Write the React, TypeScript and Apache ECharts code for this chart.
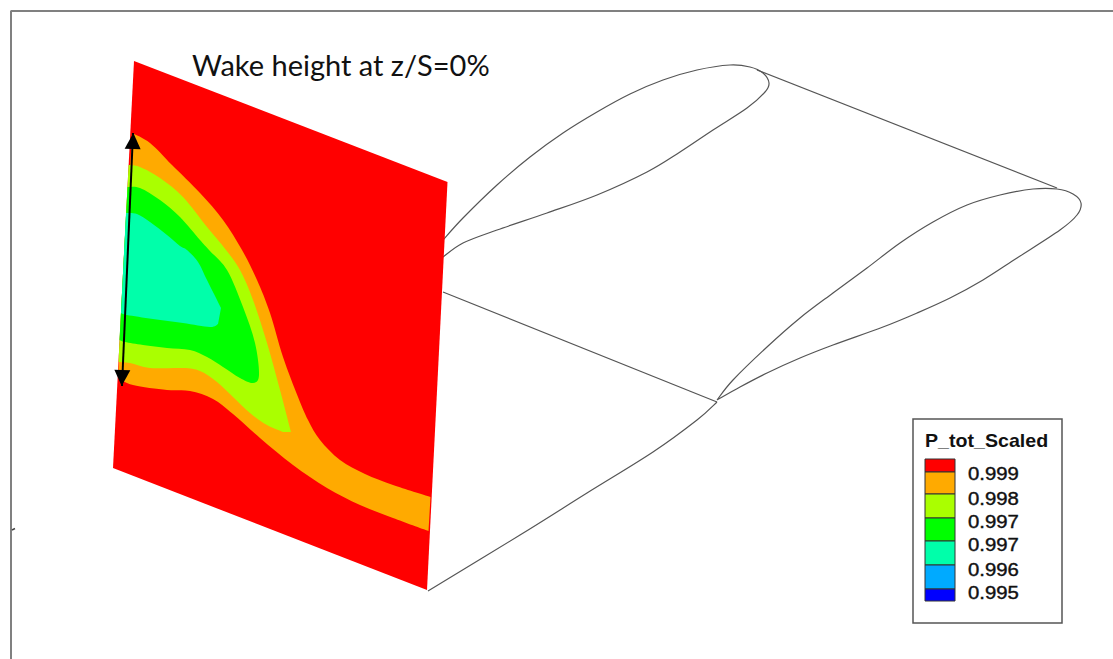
import React, { useEffect, useRef } from "react";
import * as echarts from "echarts";

type P = [number, number];

const titleText = "Wake height at z/S=0%";
const legendTitle = "P_tot_Scaled";
const legendLabels = ["0.999", "0.998", "0.997", "0.997", "0.996", "0.995"];
const legendColors = ["#ff0000", "#ffaa00", "#aaff00", "#00ff00", "#00ffaa", "#00aaff", "#0000ff"];

const planeCorners: P[][] = [[[134, 61]], [[447.5, 182]], [[427, 590]], [[113, 468]]];

const orangeBand: P[][] = [
  [[132, 133], [150, 143], [172, 165], [200, 193], [223, 220], [242, 250], [257, 280], [270, 313], [283, 357], [298, 397], [308, 420], [320, 440], [340, 460], [365, 474], [393, 485], [430.5, 497]],
  [[428.5, 531], [393, 518], [360, 505], [327, 488], [293, 465], [260, 438], [233, 414], [213, 399], [190, 391], [167, 390], [133, 385], [118, 378]],
];
const yellowBand: P[][] = [
  [[128.6, 165], [140, 167], [160, 178], [183, 197], [207, 227], [226, 250], [240, 270], [253, 300], [267, 343], [280, 390], [291, 432]],
  [[283, 432], [267, 425], [250, 413], [233, 397], [217, 382], [200, 371], [183, 368], [150, 368], [130, 363], [118.5, 362]],
];
const greenBand: P[][] = [
  [[127.5, 187], [140, 188], [160, 200], [180, 217], [200, 240], [209, 250], [227, 270], [243, 307], [255, 343], [259, 375], [253, 383], [240, 378], [223, 367], [207, 357], [190, 350], [167, 348], [143, 345], [125, 342], [119.5, 340]],
];
const cyanBand: P[][] = [
  [[126, 213], [137, 214], [150, 222], [167, 235], [180, 246], [187, 250], [198, 262], [207, 280], [221, 308]],
  [[218, 324], [210, 327], [183, 323], [153, 319], [127, 315], [121, 313]],
];

const nearFoil: P[] = [[443, 240], [463, 218], [497, 185], [530, 157], [563, 133], [597, 112], [630, 94], [663, 80], [697, 70], [730, 65], [750, 67], [763, 73], [769, 83], [765, 92], [747, 108], [713, 130], [680, 152], [647, 172], [597, 195], [547, 213], [497, 230], [463, 243], [443, 257]];
const farFoil: P[] = [[717, 400], [733, 380], [767, 347], [800, 318], [833, 293], [867, 268], [900, 243], [933, 222], [967, 205], [1000, 195], [1033, 189], [1057, 189], [1073, 194], [1081, 203], [1077, 215], [1060, 230], [1017, 258], [983, 280], [950, 298], [917, 313], [883, 327], [833, 345], [800, 358], [767, 373], [740, 387], [717, 400]];
const topEdge: P[] = [[757, 70], [1057, 188]];
const midEdge: P[] = [[443, 292], [717, 402]];
const lowEdge: P[] = [[717, 402], [697, 420], [653, 452], [587, 493], [520, 535], [428, 591]];
const frameLine: P[] = [[11, 659], [11, 11], [1113, 11]];
const frameTick: P[] = [[12, 530], [15, 528.5]];
const wakeArrow: P[] = [[133, 133], [122, 386]];

const LINE = "#555555";

function toPath(curves: P[][], api: any, closed: boolean): string {
  let d = "";
  curves.forEach((pts, ci) => {
    const c = pts.map((p) => api.coord(p) as P);
    d += (ci === 0 ? "M" : "L") + c[0][0] + " " + c[0][1];
    for (let i = 0; i < c.length - 1; i++) {
      const a = c[Math.max(0, i - 1)], b = c[i], e = c[i + 1], f = c[Math.min(c.length - 1, i + 2)];
      const c1 = [b[0] + (e[0] - a[0]) / 6, b[1] + (e[1] - a[1]) / 6];
      const c2 = [e[0] - (f[0] - b[0]) / 6, e[1] - (f[1] - b[1]) / 6];
      d += `C${c1[0]} ${c1[1]} ${c2[0]} ${c2[1]} ${e[0]} ${e[1]}`;
    }
  });
  return closed ? d + "Z" : d;
}

function region(name: string, curves: P[][], color: string) {
  return {
    type: "custom",
    name,
    silent: true,
    clip: false,
    coordinateSystem: "cartesian2d",
    encode: { x: 0, y: 1 },
    data: [curves[0][0]],
    renderItem: (_p: any, api: any) => ({
      type: "path",
      shape: { pathData: toPath(curves, api, true), layout: "cover" },
      style: { fill: color, stroke: null },
    }),
  };
}

function curve(name: string, pts: P[]) {
  return {
    type: "custom",
    name,
    silent: true,
    clip: false,
    coordinateSystem: "cartesian2d",
    encode: { x: 0, y: 1 },
    data: [pts[0]],
    renderItem: (_p: any, api: any) => ({
      type: "path",
      shape: { pathData: toPath([pts], api, false), layout: "cover" },
      style: { fill: "none", stroke: LINE, lineWidth: 1.2 },
    }),
  };
}

function polyline(name: string, data: P[], color = LINE, width = 1.2) {
  return {
    type: "line",
    name,
    data,
    silent: true,
    symbol: "none",
    clip: false,
    lineStyle: { color, width },
  };
}

export default function App() {
  const ref = useRef<HTMLDivElement>(null);
  useEffect(() => {
    const chart = echarts.init(ref.current!, null, { renderer: "svg" });
    const legendLeft = 925;
    const swatchEdges = [459, 472, 494, 518, 541, 565, 589, 601];
    const labelY = [474, 499, 522, 545, 570, 593];
    const graphic: any[] = [
      { type: "rect", shape: { x: 913, y: 419, width: 149, height: 204 }, style: { fill: "#fff", stroke: "#555", lineWidth: 1.5 } },
      ...legendColors.map((c, i) => ({
        type: "rect",
        shape: { x: legendLeft, y: swatchEdges[i], width: 30, height: swatchEdges[i + 1] - swatchEdges[i] },
        style: { fill: c, stroke: "#333", lineWidth: 1 },
      })),
      {
        type: "text", x: 925, y: 441, scaleX: 1.09,
        style: { text: legendTitle, fontFamily: "Liberation Sans", fontSize: 18, fontWeight: "bold", fill: "#111", verticalAlign: "middle" },
      },
      ...legendLabels.map((t, i) => ({
        type: "text", x: 968, y: labelY[i], scaleX: 1.13,
        style: { text: t, fontFamily: "Liberation Sans", fontSize: 18, fill: "#111", stroke: "#111", lineWidth: 0.4, verticalAlign: "middle" },
      })),
      {
        type: "text", x: 192, y: 64,
        style: { text: titleText, fontFamily: "Lato", fontSize: 29, fill: "#111", verticalAlign: "middle" },
      },
    ];
    chart.setOption({
      animation: false,
      backgroundColor: "#ffffff",
      grid: { left: 0, right: 0, top: 0, bottom: 0 },
      xAxis: { type: "value", min: 0, max: 1113, show: false },
      yAxis: { type: "value", min: 0, max: 659, inverse: true, show: false },
      graphic,
      series: [
        polyline("frame", frameLine, "#808080", 2),
        polyline("frame tick", frameTick, "#444444", 1.5),
        curve("near foil", nearFoil),
        curve("far foil", farFoil),
        polyline("top edge", topEdge),
        polyline("mid edge", midEdge),
        curve("low edge", lowEdge),
        region("plane", planeCorners, legendColors[0]),
        region("0.999", orangeBand, legendColors[1]),
        region("0.998", yellowBand, legendColors[2]),
        region("0.997", greenBand, legendColors[3]),
        region("0.997b", cyanBand, legendColors[4]),
        {
          type: "line",
          name: "wake height",
          silent: true,
          clip: false,
          z: 5,
          lineStyle: { color: "#000", width: 2 },
          itemStyle: { color: "#000" },
          showSymbol: true,
          data: [
            { value: wakeArrow[0], symbol: "triangle", symbolSize: [16, 16], symbolRotate: -2.5, symbolOffset: [0, 8] },
            { value: wakeArrow[1], symbol: "triangle", symbolSize: [16, 16], symbolRotate: 177.5, symbolOffset: [0, -8] },
          ],
        },
      ],
    });
    return () => chart.dispose();
  }, []);
  return <div ref={ref} style={{ position: "fixed", left: 0, top: 0, width: 1113, height: 659 }} />;
}
